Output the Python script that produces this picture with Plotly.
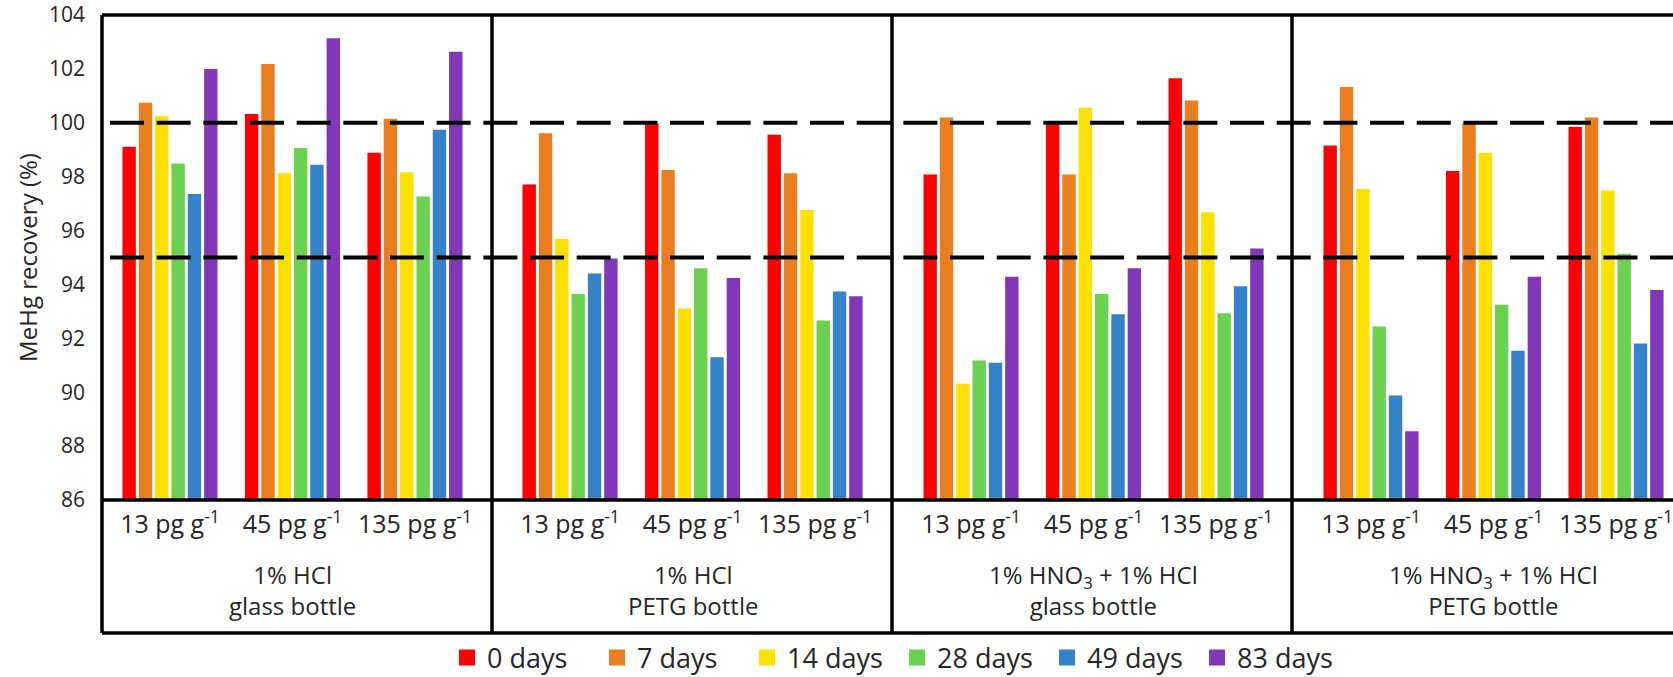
import plotly.graph_objects as go

# ---------------- data ----------------
concentrations = ["13 pg g<sup>-1</sup>", "45 pg g<sup>-1</sup>", "135 pg g<sup>-1</sup>"]
days = ["0 days", "7 days", "14 days", "28 days", "49 days", "83 days"]
colors = ["#FF0000", "#EA7D1E", "#FAE100", "#6CD150", "#3482C8", "#8037B8"]
panel_labels = [
    "1% HCl<br>glass bottle",
    "1% HCl<br>PETG bottle",
    "1% HNO<sub>3</sub> + 1% HCl<br>glass bottle",
    "1% HNO<sub>3</sub> + 1% HCl<br>PETG bottle",
]

# rows = storage time (days), columns = concentration
hcl_glass = [
    [99.11, 100.33, 98.89],
    [100.74, 102.18, 100.15],
    [100.24, 98.13, 98.16],
    [98.49, 99.06, 97.26],
    [97.36, 98.44, 99.74],
    [102.00, 103.14, 102.64],
]
hcl_petg = [
    [97.71, 99.98, 99.56],
    [99.61, 98.25, 98.13],
    [95.69, 93.11, 96.76],
    [93.65, 94.60, 92.66],
    [94.41, 91.30, 93.74],
    [94.96, 94.24, 93.56],
]
mix_glass = [
    [98.08, 100.05, 101.65],
    [100.20, 98.08, 100.83],
    [90.31, 100.56, 96.68],
    [91.18, 93.65, 92.93],
    [91.09, 92.89, 93.93],
    [94.29, 94.60, 95.33],
]
mix_petg = [
    [99.16, 98.21, 99.84],
    [101.33, 99.96, 100.20],
    [97.54, 98.89, 97.49],
    [92.44, 93.25, 95.14],
    [89.88, 91.54, 91.81],
    [88.55, 94.29, 93.79],
]
panels = [hcl_glass, hcl_petg, mix_glass, mix_petg]
reference_lines = [100, 95]
y_range = [86, 104]

# ---------------- layout geometry (pixels) ----------------
W, H = 1673, 677
ML, MT, MB = 102, 15, 177
PW = W - ML                 # plot width in px
PH = H - MT - MB            # plot height in px
panel_edges_px = [102, 492, 892, 1292, 1673]
x_ranges = [[-0.555, 2.629], [-0.637, 2.628], [-0.645, 2.620], [-0.645, 2.465]]

def px_x(p):
    return (p - ML) / PW

def px_y(p):
    return (MT + PH - p) / PH

FONT = "Open Sans"
TXT = "#262626"

fig = go.Figure()

axis_names = ["x", "x2", "x3", "x4"]
for pi, data in enumerate(panels):
    for di, d in enumerate(days):
        fig.add_trace(go.Bar(
            x=concentrations, y=data[di], name=d,
            marker=dict(color=colors[di], line=dict(width=0)),
            xaxis=axis_names[pi], yaxis="y",
            legendgroup=d, showlegend=False,
        ))

# legend entries (bigger square symbols)
for di, d in enumerate(days):
    fig.add_trace(go.Scatter(
        x=[None], y=[None], mode="markers", name=d,
        marker=dict(symbol="square", size=16, color=colors[di]),
        legendgroup=d, showlegend=True, xaxis="x", yaxis="y",
    ))

layout = dict(
    width=W, height=H,
    margin=dict(l=ML, r=0, t=MT, b=MB, pad=0, autoexpand=False),
    paper_bgcolor="white", plot_bgcolor="white",
    barmode="group", bargap=0.2, bargroupgap=0.18,
    font=dict(family=FONT, color=TXT),
    showlegend=True,
    legend=dict(
        orientation="h", x=px_x(897), xanchor="center",
        y=px_y(658), yanchor="middle",
        font=dict(size=27, family=FONT, color=TXT),
        bgcolor="rgba(0,0,0,0)", traceorder="normal",
        entrywidth=105, entrywidthmode="pixels",
    ),
    yaxis=dict(
        range=y_range, tick0=86, dtick=2, showgrid=False, zeroline=False,
        showline=False, ticks="", ticklabelstandoff=16,
        tickfont=dict(size=21, family=FONT, color=TXT),
        title=dict(text="MeHg recovery (%)", font=dict(size=24, family=FONT, color=TXT),
                   standoff=4),
        anchor="x",
    ),
)
for pi, ax in enumerate(axis_names):
    key = "xaxis" if pi == 0 else "xaxis%d" % (pi + 1)
    layout[key] = dict(
        domain=[px_x(panel_edges_px[pi]), px_x(panel_edges_px[pi + 1])],
        type="category", categoryorder="array", categoryarray=concentrations,
        range=x_ranges[pi], showgrid=False, zeroline=False, showline=False,
        ticks="", ticklabelstandoff=7,
        tickfont=dict(size=25, family=FONT, color=TXT),
        anchor="y",
    )
fig.update_layout(**layout)

# group labels under each panel
for pi, lab in enumerate(panel_labels):
    fig.add_annotation(
        text=lab, x=concentrations[1], xref=axis_names[pi], y=px_y(590), yref="paper",
        showarrow=False, xanchor="center", yanchor="middle",
        font=dict(size=24, family=FONT, color=TXT),
    )

# frame lines
LW = 3.5
y_bot = px_y(633)
fig.add_shape(type="line", xref="paper", yref="paper", x0=0, x1=1, y0=1, y1=1,
              line=dict(color="black", width=LW), layer="above")
fig.add_shape(type="line", xref="paper", yref="paper", x0=0, x1=1, y0=0, y1=0,
              line=dict(color="black", width=LW), layer="above")
fig.add_shape(type="line", xref="paper", yref="paper", x0=0, x1=1, y0=y_bot, y1=y_bot,
              line=dict(color="black", width=LW), layer="above")
for p in panel_edges_px[:-1]:
    fig.add_shape(type="line", xref="paper", yref="paper", x0=px_x(p), x1=px_x(p),
                  y0=1, y1=y_bot, line=dict(color="black", width=LW), layer="above")

# dashed reference lines
for v in reference_lines:
    fig.add_shape(type="line", xref="paper", yref="y", x0=px_x(110), x1=1, y0=v, y1=v,
                  line=dict(color="black", width=4, dash="34px,12.67px"), layer="above")

fig.write_html("out.html")
